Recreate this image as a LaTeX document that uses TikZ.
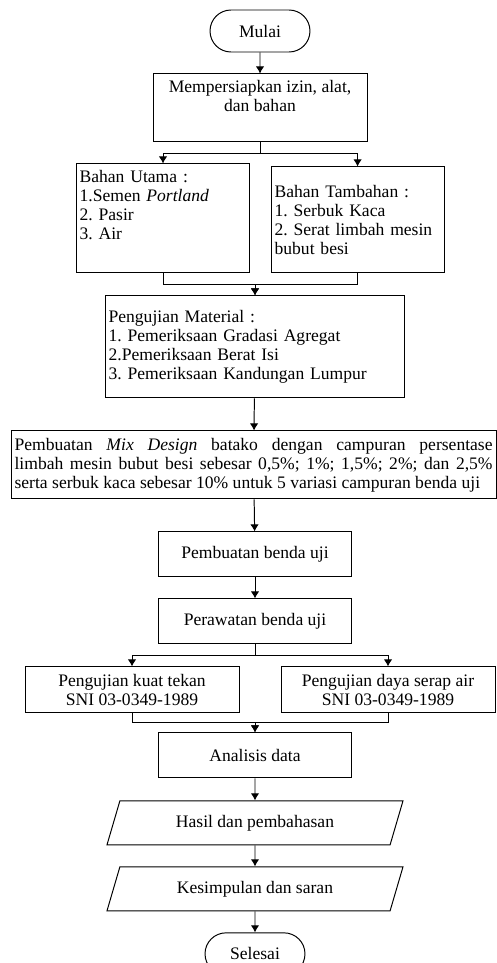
\documentclass[tikz,border=0pt]{standalone}
\usepackage{fontspec}
\setmainfont{Liberation Serif}
\usetikzlibrary{shapes,arrows,arrows.meta,positioning}
\tikzset{
  flowedge/.style   = {black, ->, >={Latex[length=5pt,width=6pt]}},
  terminal/.style   = {rounded rectangle, minimum width=2.675cm, minimum height=1.05cm},
  prosesbox/.style  = {rectangle, minimum width=4.825cm, minimum height=1.125cm},
  daftarbox/.style  = {rectangle, align=left},
  iobox/.style      = {trapezium, trapezium left angle=63, trapezium right angle=117, trapezium stretches body=true, minimum width=7.4cm, minimum height=1.1cm},
}
\frenchspacing

\begin{document}
\begin{tikzpicture}[line width=0.7pt]
      \tikzstyle{every node} = [draw, inner xsep=2.5pt, font=\fontsize{12.5}{13.5}\selectfont]
      \useasboundingbox (0,0) rectangle (12.4,-24.075);
      \node[terminal] (mulai) at (6.5,-0.775) {Mulai};
      \node[rectangle, minimum width=5.35cm, minimum height=1.7cm, align=center, below=0.525cm of mulai] (persiapan) {Mempersiapkan izin, alat,\\ dan bahan\\[3pt] \mbox{}};
      \node[daftarbox, text width=4.17cm, minimum height=2.725cm, below=0.525cm of persiapan, xshift=-2.425cm] (utama) {Bahan Utama :\\ 1.Semen \textit{Portland}\\ 2. Pasir\\ 3. Air\\[6pt] \mbox{}};
      \node[daftarbox, text width=4.15cm, minimum height=2.65cm, below=0.6cm of persiapan, xshift=2.44cm] (tambahan) {Bahan Tambahan :\\ 1. Serbuk Kaca\\ 2. Serat limbah mesin\\ bubut besi};
      \node[daftarbox, text width=7.32cm, minimum height=2.55cm, below=0.55cm of utama, xshift=2.3cm] (ujimaterial) {Pengujian Material :\\ 1. Pemeriksaan Gradasi Agregat\\ 2.Pemeriksaan Berat Isi\\ 3. Pemeriksaan Kandungan Lumpur};
      \node[rectangle, align=justify, text width=11.95cm, minimum height=1.7cm, below=0.8cm of ujimaterial, xshift=-0.035cm] (mixdesign) {Pembuatan \textit{Mix Design} batako dengan campuran persentase\linebreak limbah mesin bubut besi sebesar 0,5\%; 1\%; 1,5\%; 2\%; dan 2,5\%\linebreak serta serbuk kaca sebesar 10\% untuk 5 variasi campuran benda uji};
      \node[prosesbox, below=0.8cm of mixdesign, xshift=0.035cm] (pembuatan) {Pembuatan benda uji};
      \node[prosesbox, below=0.525cm of pembuatan] (perawatan) {Perawatan benda uji};
      \node[rectangle, minimum width=5.35cm, minimum height=1.15cm, align=center, below=0.55cm of perawatan, xshift=-3.075cm] (kuattekan) {Pengujian kuat tekan\\ SNI 03-0349-1989};
      \node[rectangle, minimum width=5.35cm, minimum height=1.15cm, align=center, below=0.55cm of perawatan, xshift=3.325cm] (dayaserap) {Pengujian daya serap air\\ SNI 03-0349-1989};
      \node[prosesbox, below=0.475cm of kuattekan, xshift=3.075cm] (analisis) {Analisis data};
      \node[iobox, below=0.55cm of analisis] (hasil) {Hasil dan pembahasan};
      \node[iobox, below=0.525cm of hasil] (kesimpulan) {Kesimpulan dan saran};
      \node[terminal, below=0.525cm of kesimpulan] (selesai) {Selesai};

      \path (mulai) edge[flowedge] (persiapan);
      \draw[flowedge] (persiapan.south) -- ++(0,-0.275) -| (utama.north);
      \draw[flowedge] (persiapan.south) -- ++(0,-0.275) -| (tambahan.north);
      \draw[flowedge] (utama.south) -- ++(0,-0.275) -| (ujimaterial.north);
      \draw[flowedge] (tambahan.south) -- ++(0,-0.275) -| (ujimaterial.north);
      \path (ujimaterial) edge[flowedge] (mixdesign);
      \path (mixdesign) edge[flowedge] (pembuatan);
      \path (pembuatan) edge[flowedge] (perawatan);
      \draw[flowedge] (perawatan.south) -- ++(0,-0.275) -| (kuattekan.north);
      \draw[flowedge] (perawatan.south) -- ++(0,-0.275) -| (dayaserap.north);
      \draw[flowedge] (kuattekan.south) -- ++(0,-0.225) -| (analisis.north);
      \draw[flowedge] (dayaserap.south) -- ++(0,-0.225) -| (analisis.north);
      \path (analisis) edge[flowedge] (hasil);
      \path (hasil) edge[flowedge] (kesimpulan);
      \path (kesimpulan) edge[flowedge] (selesai);
\end{tikzpicture}
\end{document}
